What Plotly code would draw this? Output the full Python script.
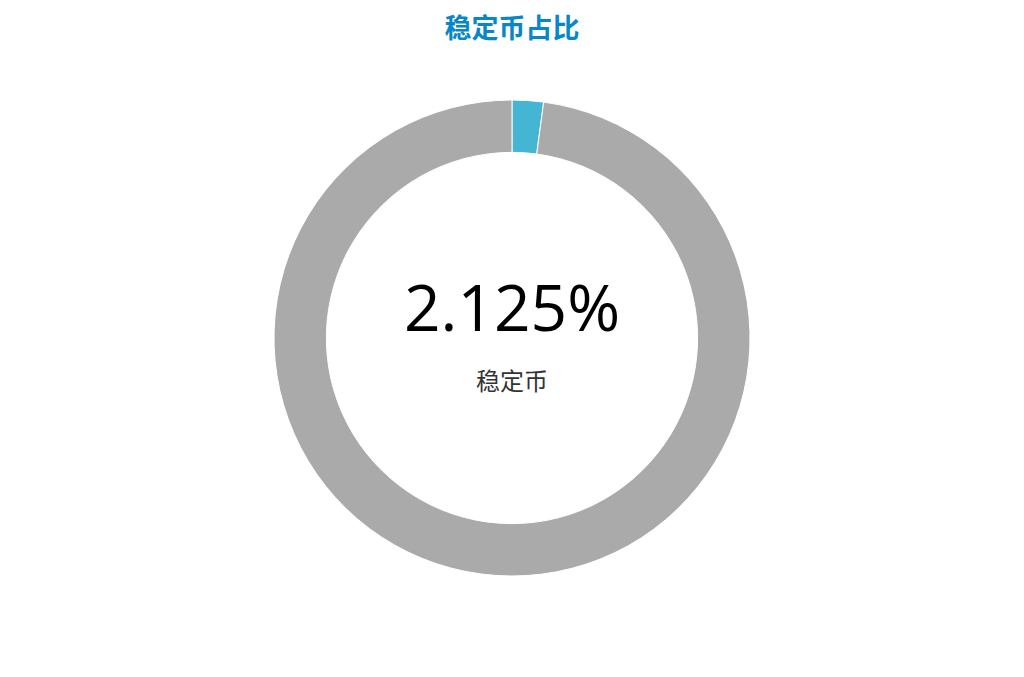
import plotly.graph_objects as go

# 稳定币占比 data
labels = ["稳定币", "其他"]
values = [2.125, 97.875]
colors = ["#44b6d4", "#aaaaaa"]
center_value = "2.125%"
center_label = "稳定币"

fig = go.Figure()
fig.add_trace(go.Pie(
    labels=labels,
    values=values,
    hole=0.78,
    sort=False,
    direction="clockwise",
    rotation=0,
    marker=dict(colors=colors, line=dict(color="#ffffff", width=1)),
    textinfo="none",
    hoverinfo="label+percent",
    showlegend=False,
))

fig.add_annotation(x=0.5, y=0.566, xref="paper", yref="paper", text=center_value,
                   showarrow=False, font=dict(family="Open Sans, Noto Sans", size=64, color="#000000"))
fig.add_annotation(x=0.5, y=0.412, xref="paper", yref="paper", text=center_label,
                   showarrow=False, font=dict(family="Noto Sans CJK SC", size=24, color="#333333"))

fig.update_layout(
    width=1024, height=677,
    margin=dict(l=0, r=16, t=92, b=109),
    paper_bgcolor="#ffffff",
    plot_bgcolor="#ffffff",
    title=dict(text="<b>稳定币占比</b>", x=0.4922, xanchor="center", y=0.970, yanchor="middle",
               font=dict(family="Noto Sans CJK SC", size=27, color="#0787c9")),
)

fig.write_html("out.html")
